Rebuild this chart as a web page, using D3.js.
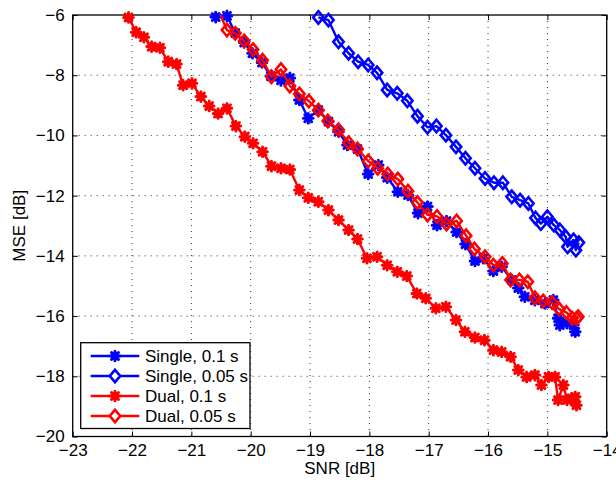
<!DOCTYPE html>
<html>
<head>
<meta charset="utf-8">
<script src="https://cdn.jsdelivr.net/npm/d3@7"></script>
<style>
  html, body { margin: 0; padding: 0; background: #fff; }
  svg { display: block; }
  text { font-family: "Liberation Sans", Arial, Helvetica, sans-serif; fill: #000; }
</style>
</head>
<body>
<svg id="chart" width="616" height="487"></svg>
<script>
// SNR [dB] / MSE [dB] pairs for each estimator configuration
const singleShortSNR = [-20.59,-20.40,-20.26,-20.11,-19.97,-19.81,-19.66,-19.49,-19.34,-19.18,-19.03,-18.86,-18.69,-18.52,-18.37,-18.20,-18.02,-17.85,-17.70,-17.52,-17.35,-17.18,-17.02,-16.86,-16.70,-16.53,-16.38,-16.22,-16.08,-15.91,-15.77,-15.60,-15.49,-15.38,-15.21,-15.04,-14.90,-14.82,-14.79,-14.67,-14.56,-14.53];
const singleShortMSE = [-6.07,-6.03,-6.60,-6.91,-7.27,-7.58,-8.03,-8.17,-8.09,-8.82,-9.43,-9.16,-9.54,-9.88,-10.32,-10.45,-11.28,-10.98,-11.40,-11.87,-11.98,-12.58,-12.36,-12.98,-12.84,-13.21,-13.61,-14.17,-14.08,-14.50,-14.36,-14.80,-15.07,-15.36,-15.47,-15.58,-15.47,-16.07,-16.30,-16.24,-16.30,-16.52];

const singleHalfSNR = [-18.86,-18.69,-18.52,-18.35,-18.19,-18.02,-17.87,-17.70,-17.53,-17.36,-17.19,-17.02,-16.87,-16.71,-16.54,-16.38,-16.22,-16.05,-15.90,-15.75,-15.60,-15.46,-15.32,-15.20,-15.11,-15.00,-14.89,-14.79,-14.69,-14.66,-14.56,-14.52,-14.47];
const singleHalfMSE = [-6.08,-6.17,-6.89,-7.27,-7.55,-7.66,-7.92,-8.49,-8.60,-8.85,-9.36,-9.73,-9.69,-9.99,-10.38,-10.76,-11.09,-11.43,-11.57,-11.57,-12.04,-12.15,-12.26,-12.74,-12.93,-12.70,-12.98,-13.14,-13.37,-13.70,-13.47,-13.81,-13.56];

const dualShortSNR = [-22.06,-21.93,-21.80,-21.67,-21.53,-21.39,-21.25,-21.14,-20.99,-20.84,-20.70,-20.55,-20.40,-20.25,-20.10,-19.96,-19.80,-19.65,-19.49,-19.34,-19.18,-19.03,-18.86,-18.69,-18.52,-18.35,-18.20,-18.04,-17.87,-17.70,-17.53,-17.37,-17.20,-17.05,-16.88,-16.71,-16.54,-16.39,-16.22,-16.06,-15.91,-15.77,-15.62,-15.49,-15.35,-15.21,-15.10,-14.98,-14.87,-14.82,-14.73,-14.67,-14.59,-14.53,-14.51];
const dualShortMSE = [-6.08,-6.57,-6.74,-7.05,-7.09,-7.55,-7.63,-8.33,-8.27,-8.71,-9.02,-9.27,-9.10,-9.69,-10.04,-10.26,-10.54,-11.02,-11.09,-11.13,-11.81,-12.07,-12.20,-12.48,-12.81,-13.14,-13.44,-14.08,-14.03,-14.31,-14.53,-14.67,-15.25,-15.41,-15.74,-15.69,-16.13,-16.52,-16.71,-16.80,-17.13,-17.19,-17.35,-17.79,-18.02,-17.96,-18.29,-18.02,-18.02,-18.79,-18.29,-18.79,-18.73,-18.68,-18.96];

const dualHalfSNR = [-20.56,-20.40,-20.26,-20.11,-19.96,-19.80,-19.65,-19.49,-19.34,-19.18,-19.02,-18.86,-18.70,-18.52,-18.35,-18.20,-18.02,-17.86,-17.69,-17.52,-17.35,-17.19,-17.02,-16.86,-16.70,-16.53,-16.37,-16.23,-16.05,-15.91,-15.76,-15.62,-15.47,-15.33,-15.21,-15.07,-14.92,-14.80,-14.68,-14.58,-14.51,-14.48];
const dualHalfMSE = [-5.77,-6.50,-6.61,-6.86,-7.15,-7.50,-8.05,-7.81,-8.36,-8.62,-8.86,-9.16,-9.52,-9.81,-10.24,-10.45,-10.85,-11.09,-11.28,-11.45,-11.85,-12.23,-12.64,-12.69,-12.94,-12.84,-13.33,-13.77,-14.03,-14.31,-14.25,-14.80,-14.80,-14.86,-15.39,-15.50,-15.55,-15.77,-15.88,-16.07,-16.08,-16.02];

// Series definitions: label, colour, marker
const seriesNames = ["Single, 0.1 s", "Single, 0.05 s", "Dual, 0.1 s", "Dual, 0.05 s"];
const seriesColors = ["#0000ff", "#0000ff", "#ff0000", "#ff0000"];
const seriesMarkers = ["star", "diamond", "star", "diamond"];
const seriesSNR = [singleShortSNR, singleHalfSNR, dualShortSNR, dualHalfSNR];
const seriesMSE = [singleShortMSE, singleHalfMSE, dualShortMSE, dualHalfMSE];

// Axis ticks
const xTicks = [-23, -22, -21, -20, -19, -18, -17, -16, -15, -14];
const yTicks = [-20, -18, -16, -14, -12, -10, -8, -6];

const svg = d3.select("#chart");
const plotL = 72.7, plotR = 606.7, plotT = 15, plotB = 436.5;
const x = d3.scaleLinear().domain([-23, -14]).range([plotL, plotR]);
const y = d3.scaleLinear().domain([-20, -6]).range([plotB, plotT]);
const fontSize = "17px";
const fmt = d3.format("d");

svg.append("defs").append("clipPath").attr("id", "plotClip")
  .append("rect").attr("x", plotL).attr("y", plotT)
  .attr("width", plotR - plotL).attr("height", plotB - plotT);

// dotted grid
const grid = svg.append("g");
grid.selectAll("line.gx").data(xTicks.slice(1, -1)).join("line")
  .attr("x1", d => x(d)).attr("x2", d => x(d))
  .attr("y1", plotT).attr("y2", plotB)
  .attr("stroke", "#333").attr("stroke-width", 1)
  .attr("stroke-dasharray", "1,5");
grid.selectAll("line.gy").data(yTicks.slice(1, -1)).join("line")
  .attr("y1", d => y(d)).attr("y2", d => y(d))
  .attr("x1", plotL).attr("x2", plotR)
  .attr("stroke", "#333").attr("stroke-width", 1)
  .attr("stroke-dasharray", "1,5");

// axes with inward ticks on all sides
const tickLen = 5;
const axB = d3.axisBottom(x).tickValues(xTicks).tickSizeInner(-tickLen).tickSizeOuter(0).tickPadding(7).tickFormat(fmt);
const axL = d3.axisLeft(y).tickValues(yTicks).tickSizeInner(-tickLen).tickSizeOuter(0).tickPadding(8).tickFormat(fmt);
const axT = d3.axisTop(x).tickValues(xTicks).tickSizeInner(-tickLen).tickSizeOuter(0).tickFormat("");
const axR = d3.axisRight(y).tickValues(yTicks).tickSizeInner(-tickLen).tickSizeOuter(0).tickFormat("");

function styleAxis(g) {
  g.selectAll("path.domain").remove();
  g.selectAll(".tick line").attr("stroke", "#000").attr("stroke-width", 1);
  g.selectAll(".tick text").style("font-size", fontSize)
    .style("font-family", "'Liberation Sans', Arial, sans-serif").attr("fill", "#000");
}
svg.append("g").attr("transform", `translate(0,${plotB})`).call(axB).call(styleAxis)
  .selectAll(".tick text").attr("dy", "0.71em");
svg.append("g").attr("transform", `translate(${plotL},0)`).call(axL).call(styleAxis);
svg.append("g").attr("transform", `translate(0,${plotT})`).call(axT).call(styleAxis);
svg.append("g").attr("transform", `translate(${plotR},0)`).call(axR).call(styleAxis);

svg.append("rect").attr("x", plotL).attr("y", plotT)
  .attr("width", plotR - plotL).attr("height", plotB - plotT)
  .attr("fill", "none").attr("stroke", "#000").attr("stroke-width", 1.3);

// markers
function starPath(r) {
  const d = r * 0.72;
  return `M${-r},0H${r}M0,${-r}V${r}M${-d},${-d}L${d},${d}M${-d},${d}L${d},${-d}`;
}
function diamondPath(w, h) {
  return `M0,${-h}L${w},0L0,${h}L${-w},0Z`;
}
function markerPath(kind) {
  return kind === "star" ? starPath(4.8) : diamondPath(5.2, 6.2);
}
const markerWidth = kind => (kind === "star" ? 3 : 2.6);

const line = d3.line().x(d => x(d[0])).y(d => y(d[1]));
const plot = svg.append("g");

seriesNames.forEach((name, i) => {
  const pts = seriesSNR[i].map((s, k) => [s, seriesMSE[i][k]]);
  const g = plot.append("g");
  g.append("path").datum(pts).attr("d", line)
    .attr("clip-path", "url(#plotClip)")
    .attr("fill", "none").attr("stroke", seriesColors[i])
    .attr("stroke-width", 2.4).attr("stroke-linejoin", "round");
  g.selectAll("path.m").data(pts.filter(p => p[1] <= -6 + 1e-9)).join("path")
    .attr("class", "m")
    .attr("transform", p => `translate(${x(p[0])},${y(p[1])})`)
    .attr("d", markerPath(seriesMarkers[i]))
    .attr("fill", "none").attr("stroke", seriesColors[i])
    .attr("stroke-width", markerWidth(seriesMarkers[i]))
    .attr("stroke-linecap", "round").attr("stroke-linejoin", "miter");
});

// axis labels
svg.append("text").attr("x", (plotL + plotR) / 2).attr("y", 474)
  .attr("text-anchor", "middle").style("font-size", fontSize).text("SNR [dB]");
svg.append("text")
  .attr("transform", `translate(25,${(plotT + plotB) / 2}) rotate(-90)`)
  .attr("text-anchor", "middle").style("font-size", fontSize).text("MSE [dB]");

// legend
const lg = svg.append("g");
lg.append("rect").attr("x", 80.7).attr("y", 342.7).attr("width", 169.3).attr("height", 85.8)
  .attr("fill", "#fff").attr("stroke", "#000").attr("stroke-width", 1.3);
seriesNames.forEach((name, i) => {
  const cy = 356 + i * 20;
  lg.append("line").attr("x1", 90.7).attr("x2", 139.3).attr("y1", cy).attr("y2", cy)
    .attr("stroke", seriesColors[i]).attr("stroke-width", 2.4);
  lg.append("path").attr("transform", `translate(115,${cy})`)
    .attr("d", markerPath(seriesMarkers[i]))
    .attr("fill", seriesMarkers[i] === "diamond" ? "#fff" : "none")
    .attr("stroke", seriesColors[i])
    .attr("stroke-width", markerWidth(seriesMarkers[i]))
    .attr("stroke-linecap", "round");
  lg.append("text").attr("x", 145).attr("y", cy).attr("dy", "0.36em")
    .style("font-size", fontSize).text(name);
});
</script>
</body>
</html>
